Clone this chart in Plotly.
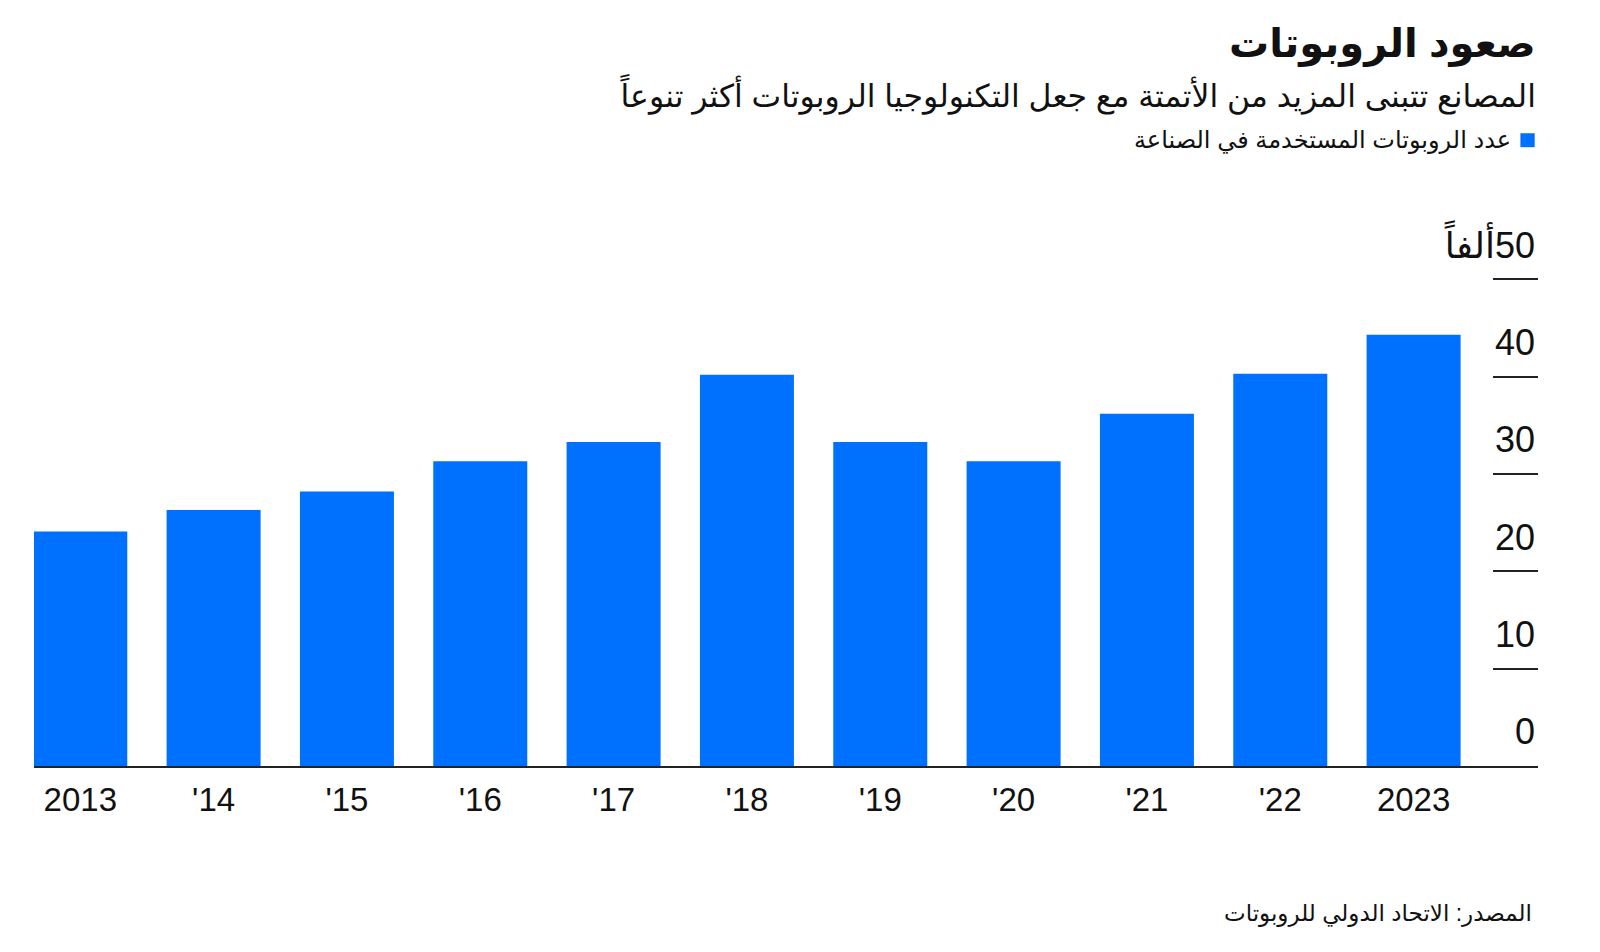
import plotly.graph_objects as go

# data: industrial robots installed (thousands)
years = ["2013", "'14", "'15", "'16", "'17", "'18", "'19", "'20", "'21", "'22", "2023"]
robots = [24.1, 26.3, 28.2, 31.3, 33.3, 40.2, 33.3, 31.3, 36.2, 40.3, 44.3]
y_ticks = [0, 10, 20, 30, 40, 50]
y_ticktext = ["0", "10", "20", "30", "40", "ألفاً\u200e50"]

title = "صعود الروبوتات"
subtitle = "المصانع تتبنى المزيد من الأتمتة مع جعل التكنولوجيا الروبوتات أكثر تنوعاً"
legend_text = "عدد الروبوتات المستخدمة في الصناعة"
source = "المصدر: الاتحاد الدولي للروبوتات"

BLUE = "#0070ff"
FONT = "Liberation Sans, DejaVu Sans, sans-serif"

fig = go.Figure()
fig.add_trace(go.Bar(
    x=list(range(len(years))),
    y=robots,
    marker=dict(color=BLUE, line=dict(width=0)),
    width=0.705,
    showlegend=False,
    hoverinfo="y",
))

# extra headroom above 50 so the top tick label isn't hidden
fig.update_layout(
    width=1600, height=952,
    margin=dict(l=26, r=70, t=174, b=194),
    paper_bgcolor="white",
    plot_bgcolor="white",
    font=dict(family=FONT, color="#111111"),
    xaxis=dict(
        range=[-0.347, 10.933],
        tickvals=list(range(len(years))),
        ticktext=years,
        tickfont=dict(size=33, color="#111111"),
        showgrid=False, zeroline=False,
        showline=True, linecolor="#222222", linewidth=2,
        ticks="", ticklabelstandoff=3,
        fixedrange=True,
    ),
    yaxis=dict(
        range=[0, 60],
        side="right",
        tickvals=y_ticks,
        ticktext=y_ticktext,
        ticklabelposition="inside top",
        ticklabelshift=-8,
        tickfont=dict(size=36, color="#111111"),
        ticks="inside", ticklen=45, tickwidth=2, tickcolor="#222222",
        showgrid=False, zeroline=False, showline=False,
        fixedrange=True,
    ),
    annotations=[
        dict(text=f"<b>{title}</b>", x=1, y=1.2356, xref="paper", yref="paper",
             xanchor="right", yanchor="middle", showarrow=False,
             font=dict(size=40, color="#111111")),
        dict(text=subtitle, x=1, y=1.1501, xref="paper", yref="paper",
             xanchor="right", yanchor="middle", showarrow=False,
             font=dict(size=31.5, color="#111111")),
        dict(text=legend_text, x=0.9836, y=1.0715, xref="paper", yref="paper",
             xanchor="right", yanchor="middle", showarrow=False,
             font=dict(size=24, color="#111111")),
        dict(text=source, x=0.9971, y=-0.2518, xref="paper", yref="paper",
             xanchor="right", yanchor="middle", showarrow=False,
             font=dict(size=23, color="#111111")),
    ],
    shapes=[
        dict(type="rect", xref="paper", yref="paper",
             x0=0.9883, x1=0.9978, y0=1.0596, y1=1.0835,
             fillcolor=BLUE, line=dict(width=0)),
    ],
)

fig.write_html("out.html")
